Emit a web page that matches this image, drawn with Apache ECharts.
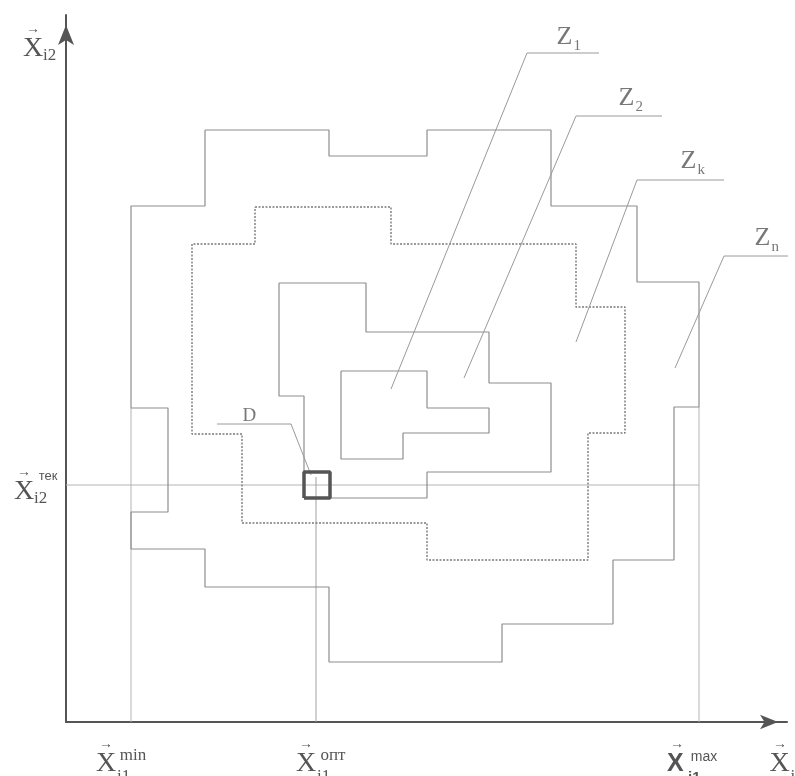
<!DOCTYPE html>
<html>
<head>
<meta charset="utf-8">
<script src="https://cdn.jsdelivr.net/npm/echarts@6/dist/echarts.min.js"></script>
<style>
html, body { margin: 0; background: #fff; }
#chart { width: 795px; height: 776px; }
</style>
</head>
<body>
<div id="chart"></div>
<script>
// all values are offsets from the axes origin (x to the right, y up)
var zoneN = [[139,592],[263,592],[263,566],[361,566],[361,592],[485,592],[485,516],[571,516],[571,440],[633,440],[633,315],[608,315],[608,162],[547,162],[547,98],[436,98],[436,60],[263,60],[263,135],[139,135],[139,173],[65,173],[65,210],[102,210],[102,314],[65,314],[65,516],[139,516],[139,592]];
var zoneK = [[189,515],[325,515],[325,478],[510,478],[510,415],[559,415],[559,289],[522,289],[522,162],[361,162],[361,199],[176,199],[176,288],[126,288],[126,478],[189,478],[189,515]];
var zone2 = [[213,439],[300,439],[300,390],[423,390],[423,339],[485,339],[485,250],[361,250],[361,224],[238,224],[238,326],[213,326],[213,439]];
var zone1 = [[275,351],[361,351],[361,314],[423,314],[423,289],[337,289],[337,263],[275,263],[275,351]];
var cellD = [[238,224],[264,224],[264,250],[238,250],[238,224]];

var tekLine = [[0,237],[633,237]];
var minLine = [[65,0],[65,314]];
var optLine = [[250,0],[250,245]];
var maxLine = [[633,0],[633,315]];

var leaderZ1 = [[533,669],[461,669],[325,333]];
var leaderZ2 = [[596,606],[510,606],[398,344]];
var leaderZk = [[658,542],[571,542],[510,380]];
var leaderZn = [[729,466],[658,466],[609,354]];
var leaderD = [[151,298],[225,298],[245,247]];

var zNames = ['1', '2', 'k', 'n'];
var zLabelPos = [[490,685],[552,624],[614,561],[688,484]];
var dLabelPos = [176,306];

var xLabelValues = [56, 256, 627, 721];
var xLabelSup = ['min', 'опт', 'max', ''];
var yLabelValues = [680, 237];

var chart = echarts.init(document.getElementById('chart'));

function path(data, color, width, type) {
    return {
        type: 'line',
        data: data,
        showSymbol: false,
        symbol: 'none',
        clip: false,
        silent: true,
        animation: false,
        lineStyle: { color: color, width: width, type: type || 'solid' }
    };
}

var serif = 'Liberation Serif';
var textColor = '#555';

var xRich = {
    a: { fontFamily: serif, fontSize: 14, color: textColor, width: 20, align: 'center', lineHeight: 14, verticalAlign: 'bottom' },
    an: { fontFamily: serif, fontSize: 14, color: textColor, width: 20, align: 'center', lineHeight: 14, verticalAlign: 'bottom' },
    sup: { fontFamily: serif, fontSize: 17, color: textColor, width: 30, align: 'left', lineHeight: 14, verticalAlign: 'bottom', padding: [0, 0, -13, 2] },
    supS: { fontFamily: 'Liberation Sans', fontSize: 14, color: textColor, width: 30, align: 'left', lineHeight: 14, verticalAlign: 'bottom', padding: [0, 0, -13, 2] },
    supn: { width: 14, lineHeight: 14 },
    x: { fontFamily: serif, fontSize: 28, color: textColor, width: 20, align: 'left', lineHeight: 26 },
    xb: { fontFamily: 'Liberation Sans', fontWeight: 'bold', fontSize: 25, color: textColor, width: 20, align: 'left', lineHeight: 26 },
    sub: { fontFamily: serif, fontSize: 17, color: textColor, width: 30, align: 'left', lineHeight: 26, verticalAlign: 'bottom', padding: [0, 0, -8, 1] },
    subn: { fontFamily: serif, fontSize: 17, color: textColor, width: 14, align: 'left', lineHeight: 26, verticalAlign: 'bottom', padding: [0, 0, -8, 1] },
    subb: { fontFamily: 'Liberation Sans', fontWeight: 'bold', fontSize: 15, color: textColor, width: 30, align: 'left', lineHeight: 26, verticalAlign: 'bottom', padding: [0, 0, -8, 1] }
};

var yRich = {
    a: { fontFamily: serif, fontSize: 14, color: textColor, width: 20, align: 'center', lineHeight: 14, verticalAlign: 'bottom' },
    e: { width: 18, lineHeight: 14 },
    sup: { fontFamily: 'Liberation Sans', fontSize: 13, color: textColor, width: 26, align: 'left', lineHeight: 14, verticalAlign: 'bottom', padding: [0, 0, -4, 1] },
    x: { fontFamily: serif, fontSize: 28, color: textColor, width: 20, align: 'left', lineHeight: 26 },
    sub: { fontFamily: serif, fontSize: 17, color: textColor, width: 18, align: 'left', lineHeight: 26, verticalAlign: 'bottom', padding: [0, 0, -2, 0] },
    sub2: { fontFamily: serif, fontSize: 17, color: textColor, width: 26, align: 'left', lineHeight: 26, verticalAlign: 'bottom', padding: [0, 0, -2, 0] }
};

var option = {
    backgroundColor: '#fff',
    animation: false,
    grid: { left: 66, right: 8, top: 15, bottom: 54, containLabel: false, outerBoundsMode: 'none' },
    xAxis: {
        type: 'value',
        min: 0,
        max: 721,
        splitLine: { show: false },
        axisTick: { show: false },
        axisLine: {
            show: true,
            symbol: ['none', 'arrow'],
            symbolSize: [11, 18],
            symbolOffset: [0, -9],
            lineStyle: { color: '#555', width: 2 }
        },
        axisLabel: {
            customValues: xLabelValues,
            margin: 15,
            hideOverlap: false,
            showMaxLabel: true,
            formatter: function (value) {
                var i = xLabelValues.indexOf(value);
                var sup = xLabelSup[i] || '';
                if (sup === 'max') {
                    return '{a|→}{supS|max}\n{xb|X}{subb|i1}';
                }
                if (sup === '') {
                    return '{an|→}{supn|}\n{x|X}{subn|i1}';
                }
                return '{a|→}{sup|' + sup + '}\n{x|X}{sub|i1}';
            },
            rich: xRich
        }
    },
    yAxis: {
        type: 'value',
        min: 0,
        max: 707,
        splitLine: { show: false },
        axisTick: { show: false },
        axisLine: {
            show: true,
            symbol: ['none', 'arrow'],
            symbolSize: [12, 20],
            symbolOffset: [0, -10],
            lineStyle: { color: '#555', width: 2 }
        },
        axisLabel: {
            customValues: yLabelValues,
            margin: 5,
            showMaxLabel: true,
            formatter: function (value) {
                if (value === yLabelValues[1]) {
                    return '{a|→}{sup|тек}\n{x|X}{sub2|i2}';
                }
                return '{a|→}{e|}\n{x|X}{sub|i2}';
            },
            rich: yRich
        }
    },
    series: [
        path(tekLine, '#b4b4b4', 1),
        path(minLine, '#b4b4b4', 1),
        path(optLine, '#a0a0a0', 1),
        path(maxLine, '#b4b4b4', 1),
        path(zoneN, '#8e8e8e', 1.2),
        path(zoneK, '#7a7a7a', 1.4, [2, 1.5]),
        path(zone2, '#8e8e8e', 1.2),
        path(zone1, '#8e8e8e', 1.2),
        path(leaderZ1, '#9a9a9a', 1),
        path(leaderZ2, '#9a9a9a', 1),
        path(leaderZk, '#9a9a9a', 1),
        path(leaderZn, '#9a9a9a', 1),
        path(leaderD, '#9a9a9a', 1),
        path(cellD, '#555', 3.5),
        {
            type: 'scatter',
            silent: true,
            clip: false,
            symbol: 'circle',
            symbolSize: 1,
            itemStyle: { color: 'rgba(0,0,0,0)' },
            data: zLabelPos.map(function (p, i) {
                return { name: zNames[i], value: p };
            }),
            label: {
                show: true,
                position: 'right',
                distance: 0,
                formatter: function (p) {
                    return '{z|Z}{s|' + p.name + '}';
                },
                rich: {
                    z: { fontFamily: serif, fontSize: 26, color: textColor, lineHeight: 30 },
                    s: { fontFamily: serif, fontSize: 15, color: textColor, lineHeight: 30, verticalAlign: 'bottom', padding: [0, 0, -2, 1] }
                }
            }
        },
        {
            type: 'scatter',
            silent: true,
            clip: false,
            symbol: 'circle',
            symbolSize: 1,
            itemStyle: { color: 'rgba(0,0,0,0)' },
            data: [{ name: 'D', value: dLabelPos }],
            label: {
                show: true,
                position: 'right',
                distance: 0,
                formatter: '{b}',
                fontFamily: serif,
                fontSize: 19,
                color: textColor
            }
        }
    ]
};

chart.setOption(option);
</script>
</body>
</html>
